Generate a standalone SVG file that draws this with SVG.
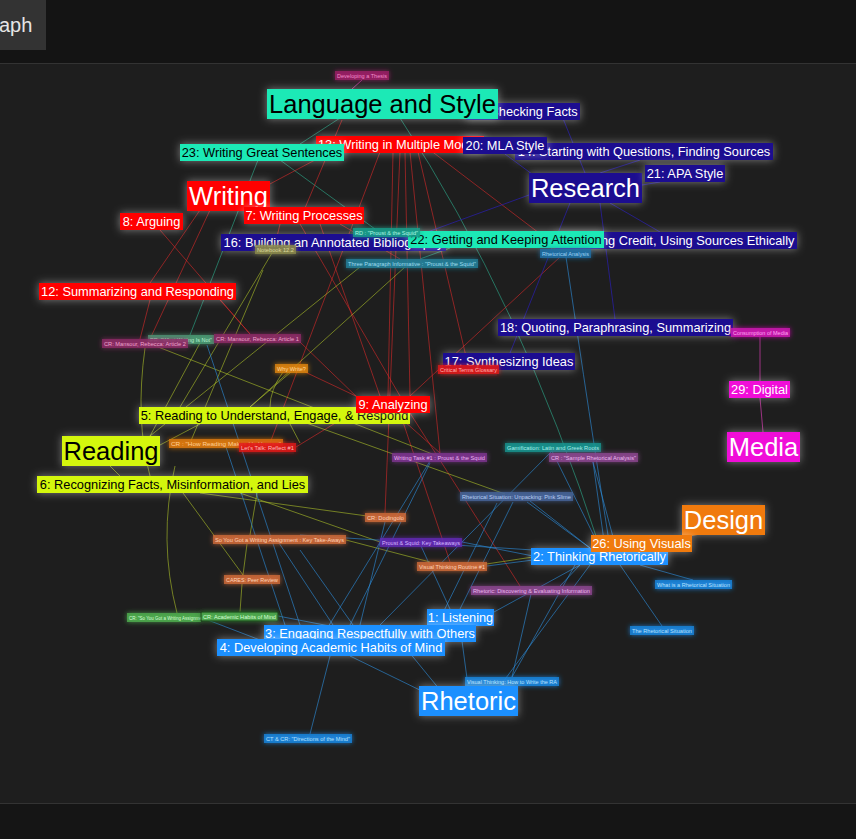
<svg xmlns="http://www.w3.org/2000/svg" width="856" height="839" viewBox="0 0 856 839">
<style>
text{font-family:"Liberation Sans",Arial,sans-serif}
.big text{font-size:25.5px;text-anchor:middle}
.med text{font-size:12.8px;text-anchor:middle}
.sm text{font-size:5.6px}
.sm rect{fill-opacity:.78}
.teal rect{fill:#1de9b6}.teal text{fill:#000}
.red rect{fill:#ff0000}.red text{fill:#fff}
.navy rect{fill:#1a0a90}.navy text{fill:#fff}
.yel rect{fill:#d4f70c}.yel text{fill:#000}
.mag rect{fill:#f00ad8}.mag text{fill:#fff}
.ora rect{fill:#f07a08}.ora text{fill:#fff}
.blu rect{fill:#1e90ff}.blu text{fill:#fff}
#edges path{fill:none;stroke-width:1}
.e-t{stroke:#2fc9a3;stroke-opacity:.5}
.e-m{stroke:#d23cae;stroke-opacity:.7}
.e-r{stroke:#d92a2a;stroke-opacity:.6}
.e-y{stroke:#b9cf2a;stroke-opacity:.55}
.e-b{stroke:#2d8fe0;stroke-opacity:.6}
.e-n{stroke:#2a1fa8;stroke-opacity:.75}
.e-o{stroke:#f07a08;stroke-opacity:.6}
</style>
<defs>
<filter id="gw" x="-50%" y="-150%" width="200%" height="400%">
<feGaussianBlur in="SourceAlpha" stdDeviation="4" result="b"/>
<feFlood flood-color="#ffffff" flood-opacity="0.42"/>
<feComposite in2="b" operator="in" result="g"/>
<feMerge><feMergeNode in="g"/><feMergeNode in="SourceGraphic"/></feMerge>
</filter>
<filter id="gs" x="-50%" y="-150%" width="200%" height="400%">
<feGaussianBlur in="SourceGraphic" stdDeviation="2.5" result="b"/>
<feMerge><feMergeNode in="b"/><feMergeNode in="SourceGraphic"/></feMerge>
</filter>
</defs>

<rect x="0" y="0" width="856" height="839" fill="#1e1e1e"/>
<rect x="0" y="0" width="856" height="63" fill="#141414"/>
<rect x="0" y="0" width="46" height="50" fill="#333333"/>
<text x="-1" y="32" font-size="20" fill="#e6e6e6">aph</text>
<line x1="0" y1="63.5" x2="856" y2="63.5" stroke="#333"/>
<rect x="0" y="803" width="856" height="36" fill="#151515"/>
<line x1="0" y1="803.5" x2="856" y2="803.5" stroke="#333"/>

<g id="edges">
<path class="e-t" d="M340,118 L300,144"/>
<path class="e-t" d="M400,118 Q520,300 600,548"/>
<path class="e-t" d="M258,160 L190,335"/>
<path class="e-t" d="M280,160 L375,229"/>
<path class="e-t" d="M450,248 L420,259"/>
<path class="e-m" d="M362,80 L352,89"/>
<path class="e-m" d="M760,337 L760,381"/>
<path class="e-m" d="M760,398 L763,432"/>
<path class="e-r" d="M200,210 L150,283"/>
<path class="e-r" d="M160,230 L250,334"/>
<path class="e-r" d="M210,210 L150,339"/>
<path class="e-r" d="M268,185 L330,152"/>
<path class="e-r" d="M342,120 L305,208"/>
<path class="e-r" d="M393,152 L388,396"/>
<path class="e-r" d="M405,152 L410,396"/>
<path class="e-r" d="M380,152 L270,443"/>
<path class="e-r" d="M400,152 L385,513"/>
<path class="e-r" d="M410,152 L440,453"/>
<path class="e-r" d="M418,152 L468,365"/>
<path class="e-r" d="M430,150 L560,249"/>
<path class="e-r" d="M320,224 L380,396"/>
<path class="e-r" d="M300,224 L400,396"/>
<path class="e-r" d="M410,396 L560,257"/>
<path class="e-r" d="M410,413 L520,586"/>
<path class="e-r" d="M400,413 L450,562"/>
<path class="e-r" d="M395,413 L440,453"/>
<path class="e-r" d="M360,408 L296,447"/>
<path class="e-r" d="M360,400 L300,342"/>
<path class="e-r" d="M360,398 L305,372"/>
<path class="e-r" d="M220,300 L250,334"/>
<path class="e-r" d="M150,300 L140,339"/>
<path class="e-r" d="M280,224 L275,245"/>
<path class="e-r" d="M340,224 L400,259"/>
<path class="e-y" d="M160,445 L200,424"/>
<path class="e-y" d="M110,466 L120,476"/>
<path class="e-y" d="M250,407 L291,372"/>
<path class="e-y" d="M180,407 L272,253"/>
<path class="e-y" d="M250,407 L405,267"/>
<path class="e-y" d="M150,436 L360,267"/>
<path class="e-y" d="M153,345 L440,457"/>
<path class="e-y" d="M145,348 Q135,420 150,476"/>
<path class="e-y" d="M200,343 L150,436"/>
<path class="e-y" d="M283,372 Q270,390 270,407"/>
<path class="e-y" d="M263,270 L190,443"/>
<path class="e-y" d="M270,410 L505,494"/>
<path class="e-y" d="M200,493 L367,516"/>
<path class="e-y" d="M240,493 L380,542"/>
<path class="e-y" d="M346,540 L430,562"/>
<path class="e-y" d="M473,566 L533,557"/>
<path class="e-y" d="M175,466 Q158,540 177,613"/>
<path class="e-y" d="M183,493 L243,575"/>
<path class="e-y" d="M247,544 L243,575"/>
<path class="e-y" d="M242,584 L240,612"/>
<path class="e-y" d="M257,493 L250,535"/>
<path class="e-y" d="M290,424 L300,443"/>
<path class="e-b" d="M468,686 L460,626"/>
<path class="e-b" d="M440,690 L400,641"/>
<path class="e-b" d="M430,695 L350,656"/>
<path class="e-b" d="M500,686 L590,565"/>
<path class="e-b" d="M330,656 L310,734"/>
<path class="e-b" d="M600,548 L552,451"/>
<path class="e-b" d="M605,548 L593,462"/>
<path class="e-b" d="M590,548 L530,501"/>
<path class="e-b" d="M640,565 L693,580"/>
<path class="e-b" d="M620,565 L662,626"/>
<path class="e-b" d="M580,565 L560,586"/>
<path class="e-b" d="M575,565 L512,677"/>
<path class="e-b" d="M566,257 Q590,420 610,548"/>
<path class="e-b" d="M593,462 L613,537"/>
<path class="e-b" d="M513,502 L460,609"/>
<path class="e-b" d="M497,503 L437,625"/>
<path class="e-b" d="M527,502 L590,548"/>
<path class="e-b" d="M533,550 L300,535"/>
<path class="e-b" d="M430,463 L350,625"/>
<path class="e-b" d="M207,345 L305,640"/>
<path class="e-b" d="M277,540 L333,625"/>
<path class="e-b" d="M300,550 L353,625"/>
<path class="e-b" d="M531,594 L512,677"/>
<path class="e-b" d="M533,560 L487,566"/>
<path class="e-b" d="M533,556 L462,542"/>
<path class="e-b" d="M580,565 L494,612"/>
<path class="e-b" d="M380,625 L552,451"/>
<path class="e-b" d="M320,640 L430,461"/>
<path class="e-b" d="M450,609 L421,546"/>
<path class="e-b" d="M360,625 L385,522"/>
<path class="e-b" d="M290,640 L226,447"/>
<path class="e-b" d="M278,616 L340,628"/>
<path class="e-b" d="M200,617 L260,640"/>
<path class="e-n" d="M585,173 L560,111"/>
<path class="e-n" d="M600,173 L640,160"/>
<path class="e-n" d="M642,185 L660,182"/>
<path class="e-n" d="M610,203 L660,232"/>
<path class="e-n" d="M600,203 L615,319"/>
<path class="e-n" d="M570,203 L510,353"/>
<path class="e-n" d="M540,180 L505,154"/>
<path class="e-n" d="M529,195 L400,242"/>
<path class="e-o" d="M700,534 L670,540"/>
</g>

<g id="nodes">
<g id="n15" class="med navy"><rect x="466" y="103" width="114" height="17" filter="url(#gw)"/><text x="523" y="116">15: Checking Facts</text></g>
<g id="s-thesis" class="sm"><rect x="335" y="71" width="54" height="9" fill="#9c1f66" filter="url(#gs)"/><text x="337" y="77.6" textLength="50" lengthAdjust="spacingAndGlyphs" fill="#f08cc8">Developing a Thesis</text></g>
<g id="n-lang" class="big teal"><rect x="267" y="89" width="231" height="30" filter="url(#gw)"/><text x="382.5" y="112.5">Language and Style</text></g>
<g id="n14" class="med navy"><rect x="515" y="143" width="258" height="17" filter="url(#gw)"/><text x="644" y="156">14: Starting with Questions, Finding Sources</text></g>
<g id="n13" class="med red"><rect x="316" y="136" width="168" height="17" filter="url(#gw)"/><text x="400" y="149">13: Writing in Multiple Modes</text></g>
<g id="n23" class="med teal"><rect x="180" y="144" width="164" height="17" filter="url(#gw)"/><text x="262" y="157">23: Writing Great Sentences</text></g>
<g id="n20" class="med navy"><rect x="463" y="137" width="84" height="17" filter="url(#gw)"/><text x="505" y="150">20: MLA Style</text></g>
<g id="n-research" class="big navy"><rect x="529" y="173" width="113" height="30" filter="url(#gw)"/><text x="585.5" y="196.5">Research</text></g>
<g id="n21" class="med navy"><rect x="645" y="165" width="80" height="17" filter="url(#gw)"/><text x="685" y="178">21: APA Style</text></g>
<g id="n-writing" class="big red"><rect x="187" y="181" width="83" height="30" filter="url(#gw)"/><text x="228.5" y="204.5">Writing</text></g>
<g id="n7" class="med red"><rect x="244" y="207" width="120" height="17" filter="url(#gw)"/><text x="304" y="220">7: Writing Processes</text></g>
<g id="n8" class="med red"><rect x="120" y="213" width="63" height="17" filter="url(#gw)"/><text x="151.5" y="226">8: Arguing</text></g>
<g id="n19" class="med navy"><rect x="555" y="232" width="242" height="17" filter="url(#gw)"/><text x="676" y="245">19: Giving Credit, Using Sources Ethically</text></g>
<g id="n16" class="med navy"><rect x="221" y="234" width="225" height="17" filter="url(#gw)"/><text x="333.5" y="247">16: Building an Annotated Bibliography</text></g>
<g id="s-notebook" class="sm"><rect x="255" y="245" width="41" height="9" fill="#8c8a4c" filter="url(#gs)"/><text x="257" y="251.6" textLength="37" lengthAdjust="spacingAndGlyphs" fill="#d9d79a">Notebook 12.2</text></g>
<g id="n22" class="med teal"><rect x="408" y="231" width="196" height="17" filter="url(#gw)"/><text x="506" y="244">22: Getting and Keeping Attention</text></g>
<g id="s-rdproust" class="sm"><rect x="353" y="228" width="67" height="9" fill="#1a9e8a" filter="url(#gs)"/><text x="355" y="234.6" textLength="63" lengthAdjust="spacingAndGlyphs" fill="#aef5e2">RD : "Proust &amp; the Squid"</text></g>
<g id="s-three" class="sm"><rect x="346" y="259" width="132" height="9" fill="#23809a" filter="url(#gs)"/><text x="348" y="265.6" textLength="128" lengthAdjust="spacingAndGlyphs" fill="#9fdcef">Three Paragraph Informative : "Proust &amp; the Squid"</text></g>
<g id="s-rhetan" class="sm"><rect x="540" y="249" width="51" height="9" fill="#1d6fa6" filter="url(#gs)"/><text x="542" y="255.6" textLength="47" lengthAdjust="spacingAndGlyphs" fill="#9dd0f2">Rhetorical Analysis</text></g>
<g id="n12" class="med red"><rect x="39" y="283" width="197" height="17" filter="url(#gw)"/><text x="137.5" y="296">12: Summarizing and Responding</text></g>
<g id="s-pr" class="sm"><rect x="148" y="335" width="66" height="9" fill="#4c9e74" filter="url(#gs)"/><text x="150" y="341.6" textLength="62" lengthAdjust="spacingAndGlyphs" fill="#b4efcf">PR: "What Writing Is Not"</text></g>
<g id="s-mans2" class="sm"><rect x="102" y="339" width="86" height="9" fill="#8e2a66" filter="url(#gs)"/><text x="104" y="345.6" textLength="82" lengthAdjust="spacingAndGlyphs" fill="#eca2cc">CR: Mansour, Rebecca: Article 2</text></g>
<g id="s-mans1" class="sm"><rect x="214" y="334" width="87" height="9" fill="#8e2a66" filter="url(#gs)"/><text x="216" y="340.6" textLength="83" lengthAdjust="spacingAndGlyphs" fill="#eca2cc">CR: Mansour, Rebecca: Article 1</text></g>
<g id="s-why" class="sm"><rect x="275" y="364" width="33" height="9" fill="#e0850e" filter="url(#gs)"/><text x="277" y="370.6" textLength="29" lengthAdjust="spacingAndGlyphs" fill="#ffd79a">Why Write?</text></g>
<g id="n18" class="med navy"><rect x="498" y="319" width="235" height="17" filter="url(#gw)"/><text x="615.5" y="332">18: Quoting, Paraphrasing, Summarizing</text></g>
<g id="s-consum" class="sm"><rect x="731" y="328" width="59" height="9" fill="#d014b4" filter="url(#gs)"/><text x="733" y="334.6" textLength="55" lengthAdjust="spacingAndGlyphs" fill="#ffa6f2">Consumption of Media</text></g>
<g id="n17" class="med navy"><rect x="443" y="353" width="132" height="17" filter="url(#gw)"/><text x="509" y="366">17: Synthesizing Ideas</text></g>
<g id="s-crit" class="sm"><rect x="438" y="365" width="61" height="9" fill="#e01616" filter="url(#gs)"/><text x="440" y="371.6" textLength="57" lengthAdjust="spacingAndGlyphs" fill="#ffb3b3">Critical Terms Glossary</text></g>
<g id="n29" class="med mag"><rect x="729" y="381" width="61" height="17" filter="url(#gw)"/><text x="759.5" y="394">29: Digital</text></g>
<g id="n5" class="med yel"><rect x="139" y="407" width="271" height="17" filter="url(#gw)"/><text x="274.5" y="420">5: Reading to Understand, Engage, &amp; Respond</text></g>
<g id="n9" class="med red"><rect x="356" y="396" width="74" height="17" filter="url(#gw)"/><text x="393" y="409">9: Analyzing</text></g>
<g id="n-media" class="big mag"><rect x="727" y="432" width="73" height="30" filter="url(#gw)"/><text x="763.5" y="455.5">Media</text></g>
<g id="n-reading" class="big yel"><rect x="62" y="436" width="98" height="30" filter="url(#gw)"/><text x="111" y="459.5">Reading</text></g>
<g id="s-howread" class="sm"><rect x="169" y="439" width="114" height="9" fill="#e07b12" filter="url(#gs)"/><text x="171" y="445.6" textLength="110" lengthAdjust="spacingAndGlyphs" fill="#ffcf96">CR : "How Reading Makes Us Human"</text></g>
<g id="s-letstalk" class="sm"><rect x="239" y="443" width="57" height="9" fill="#e01a1a" filter="url(#gs)"/><text x="241" y="449.6" textLength="53" lengthAdjust="spacingAndGlyphs" fill="#ffb9b9">Let's Talk: Reflect #1</text></g>
<g id="s-wtask" class="sm"><rect x="392" y="453" width="95" height="9" fill="#7e3490" filter="url(#gs)"/><text x="394" y="459.6" textLength="91" lengthAdjust="spacingAndGlyphs" fill="#eab1f2">Writing Task #1 : Proust &amp; the Squid</text></g>
<g id="s-gamif" class="sm"><rect x="505" y="443" width="96" height="9" fill="#17958f" filter="url(#gs)"/><text x="507" y="449.6" textLength="92" lengthAdjust="spacingAndGlyphs" fill="#a6f0ea">Gamification: Latin and Greek Roots</text></g>
<g id="s-sample" class="sm"><rect x="549" y="453" width="89" height="9" fill="#8c4690" filter="url(#gs)"/><text x="551" y="459.6" textLength="85" lengthAdjust="spacingAndGlyphs" fill="#eab6ee">CR : "Sample Rhetorical Analysis"</text></g>
<g id="n6" class="med yel"><rect x="37" y="476" width="271" height="17" filter="url(#gw)"/><text x="172.5" y="489">6: Recognizing Facts, Misinformation, and Lies</text></g>
<g id="s-rsit" class="sm"><rect x="460" y="492" width="113" height="9" fill="#46659a" filter="url(#gs)"/><text x="462" y="498.6" textLength="109" lengthAdjust="spacingAndGlyphs" fill="#b8cdf2">Rhetorical Situation: Unpacking: Pink Slime</text></g>
<g id="n-design" class="big ora"><rect x="682" y="505" width="83" height="30" filter="url(#gw)"/><text x="723.5" y="528.5">Design</text></g>
<g id="s-dod" class="sm"><rect x="365" y="513" width="41" height="9" fill="#d06a38" filter="url(#gs)"/><text x="367" y="519.6" textLength="37" lengthAdjust="spacingAndGlyphs" fill="#ffd2b6">CR: Dodingolo</text></g>
<g id="s-soyou" class="sm"><rect x="213" y="535" width="133" height="9" fill="#d06a38" filter="url(#gs)"/><text x="215" y="541.6" textLength="129" lengthAdjust="spacingAndGlyphs" fill="#ffd2b6">So You Got a Writing Assignment : Key Take-Aways</text></g>
<g id="s-proustkey" class="sm"><rect x="380" y="538" width="82" height="9" fill="#6228b4" filter="url(#gs)"/><text x="382" y="544.6" textLength="78" lengthAdjust="spacingAndGlyphs" fill="#d4b8ff">Proust &amp; Squid: Key Takeaways</text></g>
<g id="n2" class="med blu"><rect x="531" y="548" width="137" height="17" filter="url(#gw)"/><text x="599.5" y="561">2: Thinking Rhetorically</text></g>
<g id="n26" class="med ora"><rect x="591" y="535" width="101" height="17" filter="url(#gw)"/><text x="641.5" y="548">26: Using Visuals</text></g>
<g id="s-vtr" class="sm"><rect x="417" y="562" width="70" height="9" fill="#d06a38" filter="url(#gs)"/><text x="419" y="568.6" textLength="66" lengthAdjust="spacingAndGlyphs" fill="#ffd2b6">Visual Thinking Routine #1</text></g>
<g id="s-cares" class="sm"><rect x="224" y="575" width="56" height="9" fill="#d06a38" filter="url(#gs)"/><text x="226" y="581.6" textLength="52" lengthAdjust="spacingAndGlyphs" fill="#ffd2b6">CARES: Peer Review</text></g>
<g id="s-rhdisc" class="sm"><rect x="471" y="586" width="121" height="9" fill="#8c4690" filter="url(#gs)"/><text x="473" y="592.6" textLength="117" lengthAdjust="spacingAndGlyphs" fill="#eab6ee">Rhetoric: Discovering &amp; Evaluating Information</text></g>
<g id="s-whatis" class="sm"><rect x="655" y="580" width="77" height="9" fill="#1b86e0" filter="url(#gs)"/><text x="657" y="586.6" textLength="73" lengthAdjust="spacingAndGlyphs" fill="#b5e1ff">What is a Rhetorical Situation</text></g>
<g id="s-crso" class="sm"><rect x="127" y="613" width="74" height="9" fill="#4fb04f" filter="url(#gs)"/><text x="129" y="619.6" textLength="78" lengthAdjust="spacingAndGlyphs" fill="#d4ffd4">CR: "So You Got a Writing Assignment"</text></g>
<g id="s-crahm" class="sm"><rect x="201" y="612" width="77" height="9" fill="#4fb04f" stroke="#0b2a0b" stroke-width="0.8" filter="url(#gs)"/><text x="203" y="618.6" textLength="73" lengthAdjust="spacingAndGlyphs" fill="#d4ffd4">CR: Academic Habits of Mind</text></g>
<g id="n1" class="med blu"><rect x="427" y="609" width="67" height="17" filter="url(#gw)"/><text x="460.5" y="622">1: Listening</text></g>
<g id="n3" class="med blu"><rect x="264" y="625" width="212" height="17" filter="url(#gw)"/><text x="370" y="638">3: Engaging Respectfully with Others</text></g>
<g id="n4" class="med blu"><rect x="217" y="639" width="228" height="17" filter="url(#gw)"/><text x="331" y="652">4: Developing Academic Habits of Mind</text></g>
<g id="s-therhsit" class="sm"><rect x="630" y="626" width="64" height="9" fill="#1b86e0" filter="url(#gs)"/><text x="632" y="632.6" textLength="60" lengthAdjust="spacingAndGlyphs" fill="#b5e1ff">The Rhetorical Situation</text></g>
<g id="s-vthow" class="sm"><rect x="465" y="677" width="94" height="9" fill="#1b86e0" filter="url(#gs)"/><text x="467" y="683.6" textLength="90" lengthAdjust="spacingAndGlyphs" fill="#b5e1ff">Visual Thinking: How to Write the RA</text></g>
<g id="n-rhetoric" class="big blu"><rect x="419" y="686" width="99" height="30" filter="url(#gw)"/><text x="468.5" y="709.5">Rhetoric</text></g>
<g id="s-ctcr" class="sm"><rect x="264" y="734" width="88" height="9" fill="#1b86e0" filter="url(#gs)"/><text x="266" y="740.6" textLength="84" lengthAdjust="spacingAndGlyphs" fill="#b5e1ff">CT &amp; CR: "Directions of the Mind"</text></g>
</g>
</svg>
